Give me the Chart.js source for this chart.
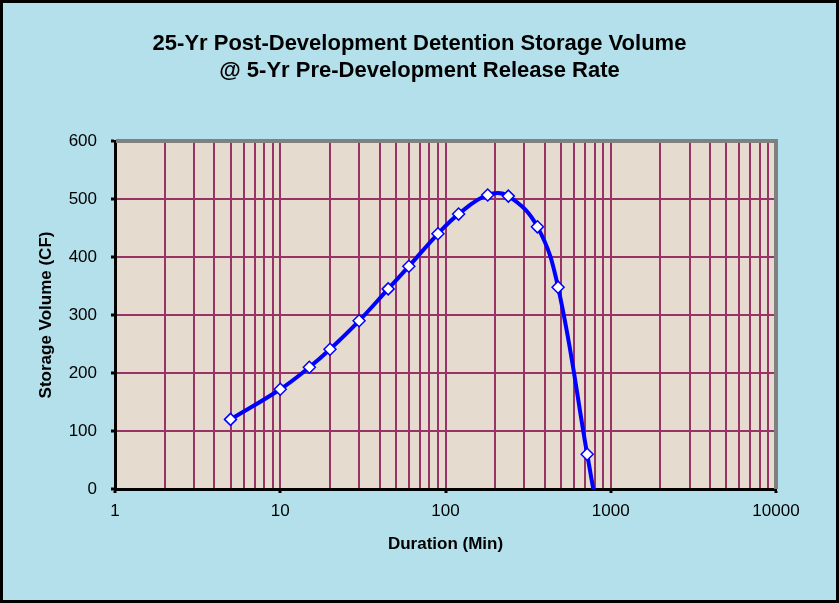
<!DOCTYPE html>
<html><head><meta charset="utf-8">
<script src="https://cdn.jsdelivr.net/npm/chart.js@4"></script>
<style>html,body{margin:0;padding:0;background:#b3e0ea;overflow:hidden}canvas{display:block}</style>
</head><body>
<canvas id="c" width="839" height="603"></canvas>
<script>
// Durations (min) and storage volumes (CF)
const durations     = [5, 10, 15, 20, 30, 45, 60, 90, 120, 180, 240, 360, 480, 720, 1440];
const storageVolume = [120, 172, 210, 241, 290, 345, 384, 440, 474, 507, 505, 452, 348, 60, -430];
// Axis ticks
const xMajorTicks = [1, 10, 100, 1000, 10000];
const xGridTicks  = [1,2,3,4,5,6,7,8,9,10,20,30,40,50,60,70,80,90,100,200,300,400,500,600,700,800,900,1000,2000,3000,4000,5000,6000,7000,8000,9000,10000];
const yTicks      = [0, 100, 200, 300, 400, 500, 600];
const titleLines  = ['25-Yr Post-Development Detention Storage Volume', '@ 5-Yr Pre-Development Release Rate'];
const xTitle = 'Duration (Min)';
const yTitle = 'Storage Volume (CF)';

const FONT = "Arial, 'Liberation Sans', sans-serif";
const GRID = '#993366';

const framePlugin = {
  id: 'frame',
  beforeDraw(chart) {
    const {ctx, width, height, chartArea: a} = chart;
    ctx.save();
    ctx.fillStyle = '#b3e0ea';
    ctx.fillRect(0, 0, width, height);
    ctx.fillStyle = '#e5dbcf';
    ctx.fillRect(a.left, a.top, a.right - a.left, a.bottom - a.top);
    ctx.restore();
  },
  afterDraw(chart) {
    const {ctx, width, height, chartArea: a} = chart;
    ctx.save();
    ctx.strokeStyle = '#808080';
    ctx.lineWidth = 4;
    ctx.beginPath();
    ctx.moveTo(a.left + 1, a.top);
    ctx.lineTo(a.right, a.top);
    ctx.lineTo(a.right, a.bottom);
    ctx.stroke();
    ctx.strokeStyle = '#000';
    ctx.lineWidth = 6;
    ctx.strokeRect(0, 0, width, height);
    ctx.restore();
  }
};

new Chart(document.getElementById('c'), {
  type: 'line',
  data: {
    datasets: [{
      data: durations.map((d, i) => ({x: d, y: storageVolume[i]})),
      borderColor: '#0000ff',
      borderWidth: 4,
      tension: 0.4,
      pointStyle: 'rectRot',
      pointRadius: 6,
      pointBackgroundColor: '#ffffff',
      pointBorderColor: '#0000ff',
      pointBorderWidth: 1.5,
      clip: {left: 8, top: 8, right: 8, bottom: 0}
    }]
  },
  options: {
    responsive: false,
    animation: false,
    devicePixelRatio: 1,
    layout: {padding: {left: 8, right: 8, top: 8, bottom: 8}},
    plugins: {
      legend: {display: false},
      tooltip: {enabled: false},
      title: {
        display: true,
        text: titleLines,
        color: '#000',
        font: {family: FONT, size: 22, weight: 'bold', lineHeight: 1.25},
        padding: {top: 22, bottom: 56}
      }
    },
    scales: {
      x: {
        type: 'logarithmic',
        position: 'bottom',
        min: 1, max: 10000,
        afterBuildTicks(scale) {
          scale.ticks = xGridTicks.map(v => ({value: v, major: xMajorTicks.includes(v)}));
        },
        afterFit(scale) { scale.height = 106; },
        ticks: {
          autoSkip: false, maxRotation: 0, color: '#000', padding: 8,
          font: {family: FONT, size: 17},
          callback: (v) => xMajorTicks.includes(v) ? String(v) : ''
        },
        grid: {
          color: GRID, lineWidth: 2,
          drawTicks: true, tickLength: 4, tickWidth: 3,
          tickColor: (c) => (c.tick && xMajorTicks.includes(c.tick.value)) ? '#000' : 'rgba(0,0,0,0)'
        },
        border: {display: true, color: '#000', width: 3},
        title: {display: true, text: xTitle, color: '#000', font: {family: FONT, size: 17, weight: 'bold'}, padding: {top: 0, bottom: 40}}
      },
      y: {
        type: 'linear',
        position: 'left',
        min: 0, max: 600,
        afterBuildTicks(scale) { scale.ticks = yTicks.map(v => ({value: v})); },
        afterFit(scale) { scale.width = 107; },
        ticks: {color: '#000', padding: 14, font: {family: FONT, size: 17}},
        grid: {color: GRID, lineWidth: 2, drawTicks: true, tickLength: 4, tickWidth: 3, tickColor: '#000'},
        border: {display: true, color: '#000', width: 3},
        title: {display: true, text: yTitle, color: '#000', font: {family: FONT, size: 17, weight: 'bold'}, padding: {top: 28, bottom: 0}}
      },
      y2: {
        type: 'linear',
        position: 'right',
        display: true,
        min: 0, max: 600,
        afterFit(scale) { scale.width = 55; },
        ticks: {display: false},
        grid: {display: false, drawTicks: false},
        border: {display: false}
      }
    }
  },
  plugins: [framePlugin]
});
</script>
</body></html>
